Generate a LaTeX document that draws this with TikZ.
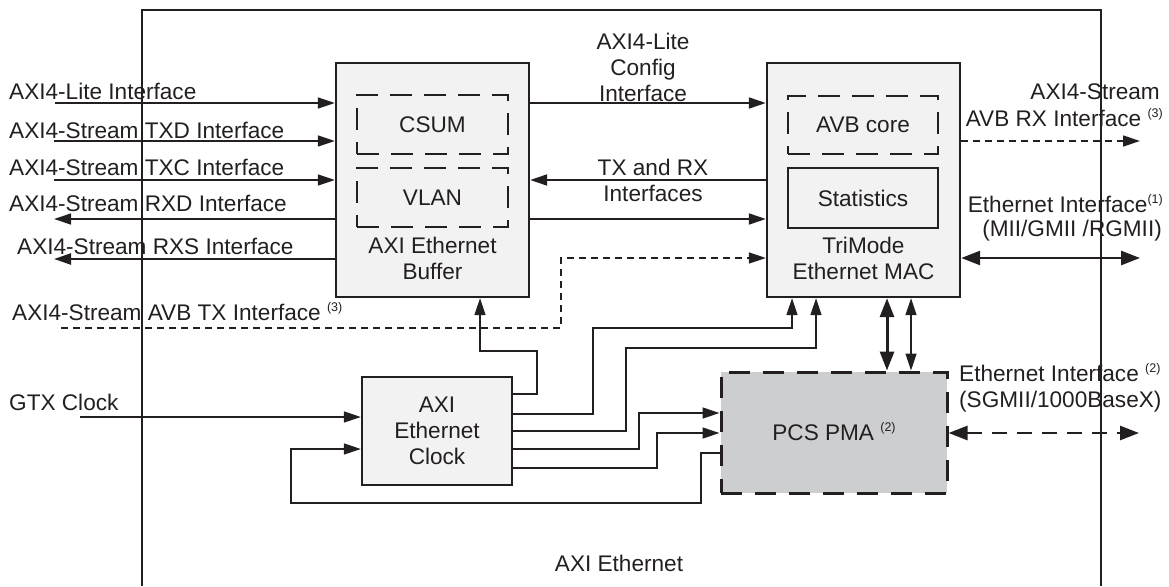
\documentclass[tikz,border=0pt]{standalone}
\usepackage{fontspec}
\setmainfont{Liberation Sans}
\usetikzlibrary{arrows.meta}
\definecolor{ink}{HTML}{231F20}
\definecolor{boxfill}{HTML}{F2F2F2}
\definecolor{pcsfill}{HTML}{CDCED0}
\newcommand{\fnmark}[1]{\smash{\raisebox{8.5pt}{\fontsize{12.5}{12.5}\selectfont(#1)}}}
\tikzset{
	txt/.style={font=\fontsize{22.6}{26}\selectfont, text=ink, inner sep=0pt, align=center},
	blk/.style={draw=ink, line width=2.4pt, fill=boxfill, inner sep=0pt},
	dblk/.style={draw=ink, line width=2.2pt, dash pattern=on 22pt off 12pt, inner sep=0pt},
	arr/.style={draw=ink, line width=1.3pt, -{Triangle[length=17pt,width=11pt]}},
	darr/.style={arr, line width=2pt},
	tarr/.style={arr, dash pattern=on 7pt off 5pt},
	bothw/.style={draw=ink, line width=2.6pt, {Triangle[length=19pt,width=14pt]}-{Triangle[length=19pt,width=14pt]}},
	botht/.style={draw=ink, line width=1.3pt, {Triangle[length=17pt,width=11pt]}-{Triangle[length=17pt,width=11pt]}},
}
\begin{document}
\begin{tikzpicture}[x=1pt, y=-1pt]
		\useasboundingbox (0,0) rectangle (1169,586);
		% 外枠
		\draw [draw=ink, line width=2.2pt] (142,586)
		|- (1101,10)
		to (1101,586)
		;
		\node [txt] (core) at (619,563) {AXI Ethernet};
		% ブロック
		\node [blk, minimum width=193pt, minimum height=234pt] (buf) at (432.5,180) {};
		\node [dblk, minimum width=151pt, minimum height=59pt] (csum) at (432.5,124.5) {};
		\node [txt] at (csum) {CSUM};
		\node [dblk, minimum width=151pt, minimum height=59pt] (vlan) at (432.5,197.5) {};
		\node [txt] at (vlan) {VLAN};
		\node [txt] (buflbl) at (432.5,258) {AXI Ethernet\\Buffer};
		\node [blk, minimum width=193pt, minimum height=234pt] (mac) at (863.5,180) {};
		\node [dblk, minimum width=150pt, minimum height=58pt] (avb) at (863,125) {};
		\node [txt] at (avb) {AVB core};
		\node [blk, txt, minimum width=150pt, minimum height=60pt] (stats) at (863,198) {Statistics};
		\node [txt] (maclbl) at (863.5,258) {TriMode\\Ethernet MAC};
		\node [blk, txt, minimum width=150pt, minimum height=108pt] (clk) at (437,431) {AXI\\Ethernet\\Clock};
		\node [dblk, line width=3pt, dash pattern=on 21pt off 13pt, fill=pcsfill, minimum width=226pt, minimum height=121pt] (pcs) at (834,432.5) {};
		\node [txt] (pcslbl) at (pcs) {PCS PMA \fnmark{2}};
		% 左側の入出力
		\node [txt, anchor=west] (tlite) at (9,91) {AXI4-Lite Interface};
		\node [txt, anchor=west] (ttxd) at (9,130) {AXI4-Stream TXD Interface};
		\node [txt, anchor=west] (ttxc) at (9,167) {AXI4-Stream TXC Interface};
		\node [txt, anchor=west] (trxd) at (9,203) {AXI4-Stream RXD Interface};
		\node [txt, anchor=west] (trxs) at (17,246) {AXI4-Stream RXS Interface};
		\node [txt, anchor=west] (tavbtx) at (12,312) {AXI4-Stream AVB TX Interface \fnmark{3}};
		\node [txt, anchor=west] (tgtx) at (9,402) {GTX Clock};
		\coordinate (plite) at (55,103);
		\coordinate (ptxd) at (54,141);
		\coordinate (ptxc) at (54,180);
		\coordinate (prxd) at (54,219);
		\coordinate (prxs) at (54,259);
		\coordinate (pavbtx) at (61,328);
		\coordinate (pgtx) at (80,417);
		\draw [arr] (plite) to (buf.west |- plite);
		\draw [arr] (ptxd) to (buf.west |- ptxd);
		\draw [arr] (ptxc) to (buf.west |- ptxc);
		\draw [arr] (buf.west |- prxd) to (prxd);
		\draw [darr, line width=2.4pt] (buf.west |- prxs) to (prxs);
		\draw [tarr] (pavbtx)
		-| (561,258)
		to (mac.west |- 0,258)
		;
		\draw [arr] (pgtx) to (clk.west |- pgtx);
		% バッファとMACの間
		\node [txt] (tcfg) at (643,67) {AXI4-Lite\\Config\\Interface};
		\node [txt] (ttxrx) at (653,180) {TX and RX\\Interfaces};
		\draw [darr] (buf.east |- 0,103) to (mac.west |- 0,103);
		\draw [darr] (mac.west |- 0,180) to (buf.east |- 0,180);
		\draw [darr] (buf.east |- 0,219) to (mac.west |- 0,219);
		% 右側の入出力
		\node [txt, anchor=east] (tavbrx1) at (1160,92) {AXI4-Stream};
		\node [txt, anchor=east] (tavbrx2) at (1163,118) {AVB RX Interface \fnmark{3}};
		\node [txt, anchor=east] (tmii1) at (1163,204) {Ethernet Interface\fnmark{1}};
		\node [txt, anchor=east] (tmii2) at (1162,231) {(MII/GMII /RGMII)};
		\node [txt, anchor=west] (tsgmii1) at (959,373) {Ethernet Interface \fnmark{2}};
		\node [txt, anchor=west] (tsgmii2) at (959,402) {(SGMII/1000BaseX)};
		\coordinate (pavbrx) at (1140,141);
		\coordinate (pmii) at (1140,258);
		\coordinate (psgmii) at (1139,433);
		\draw [tarr] (mac.east |- pavbrx) to (pavbrx);
		\draw [bothw] (mac.east |- pmii) to (pmii);
		\draw [bothw, dash pattern=on 15pt off 10pt] (pcs.east |- psgmii) to (psgmii);
		% MACとPCS PMA
		\draw [bothw, line width=3pt] (mac.south -| 887,0) to (pcs.north -| 887,0);
		\draw [botht] (mac.south -| 911,0) to (pcs.north -| 911,0);
		% クロック配線
		\draw [arr] (clk.east |- 0,394)
		-| (537,351)
		-| (buf.south -| 480,0)
		;
		\draw [arr] (clk.east |- 0,414)
		-| (593,328)
		-| (mac.south -| 792,0)
		;
		\draw [arr] (clk.east |- 0,431)
		-| (626,348)
		-| (mac.south -| 816,0)
		;
		\draw [arr] (clk.east |- 0,449)
		-| (639,413)
		to (pcs.west |- 0,413)
		;
		\draw [arr] (clk.east |- 0,468)
		-| (657,433)
		to (pcs.west |- 0,433)
		;
		\draw [arr] (pcs.west |- 0,453)
		-| (701,503)
		-| (291,449)
		to (clk.west |- 0,449)
		;
	\end{tikzpicture}
\end{document}
